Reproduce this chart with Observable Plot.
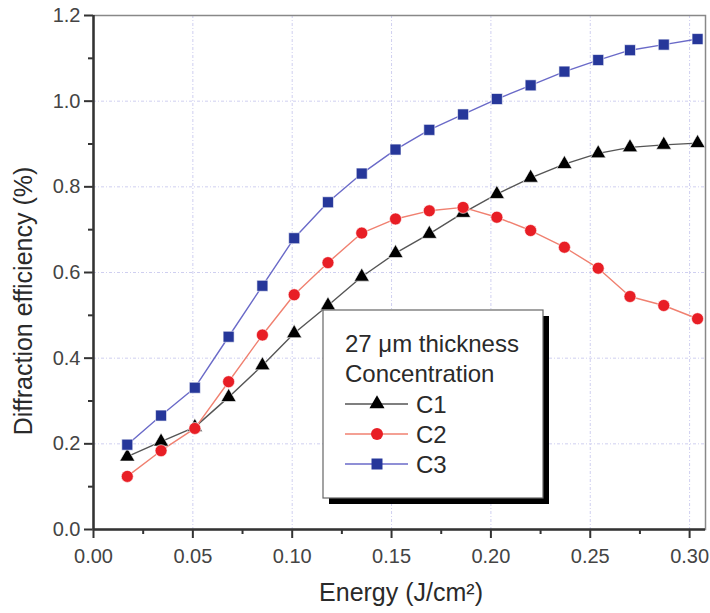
<!DOCTYPE html>
<html>
<head>
<meta charset="utf-8">
<script src="https://cdn.jsdelivr.net/npm/d3@7"></script>
<script src="https://cdn.jsdelivr.net/npm/@observablehq/plot@0.6"></script>
<style>
  html, body { margin: 0; padding: 0; background: #fff; }
  svg { font-family: "Liberation Sans", Arial, sans-serif; }
</style>
</head>
<body>
<div id="chart"></div>
<script>
const energy = [0.017, 0.034, 0.051, 0.068, 0.085, 0.101, 0.118, 0.135, 0.152, 0.169, 0.186, 0.203, 0.220, 0.237, 0.254, 0.270, 0.287, 0.304];
const c1 = [0.170, 0.205, 0.239, 0.309, 0.383, 0.458, 0.523, 0.590, 0.645, 0.690, 0.739, 0.783, 0.821, 0.853, 0.878, 0.892, 0.898, 0.902];
const c2 = [0.124, 0.184, 0.236, 0.345, 0.454, 0.548, 0.623, 0.692, 0.725, 0.744, 0.752, 0.729, 0.698, 0.659, 0.610, 0.544, 0.523, 0.492];
const c3 = [0.198, 0.266, 0.331, 0.450, 0.569, 0.680, 0.764, 0.831, 0.887, 0.933, 0.969, 1.005, 1.037, 1.069, 1.096, 1.119, 1.132, 1.145];
const seriesNames = ["C1", "C2", "C3"];
const legendTitle = ["27 \u03bcm thickness", "Concentration"];
const xLabel = "Energy (J/cm\u00b2)";
const yLabel = "Diffraction efficiency (%)";
const xTicks = [0.00, 0.05, 0.10, 0.15, 0.20, 0.25, 0.30];
const xMinorTicks = [0.025, 0.075, 0.125, 0.175, 0.225, 0.275];
const yTicks = [0.0, 0.2, 0.4, 0.6, 0.8, 1.0, 1.2];
const yMinorTicks = [0.1, 0.3, 0.5, 0.7, 0.9, 1.1];

const styles = {
  C1: {line: "#555555", fill: "#000000", symbol: "triangle", r: 5.6},
  C2: {line: "#f08070", fill: "#e81e25", symbol: "circle", r: 6},
  C3: {line: "#6a6ac8", fill: "#26379a", symbol: "square", r: 6.2}
};

const values = [c1, c2, c3];
const data = [];
seriesNames.forEach((s, k) => energy.forEach((e, i) => data.push({series: s, x: e, y: values[k][i]})));

const gridColor = "#cfcff0";
const marks = [
  Plot.gridX(xTicks.filter(d => d > 0), {stroke: gridColor, strokeOpacity: 1, strokeDasharray: "3,2,1,2"}),
  Plot.gridY(yTicks.filter(d => d > 0 && d < 1.2), {stroke: gridColor, strokeOpacity: 1, strokeDasharray: "3,2,1,2"}),
  Plot.axisX({ticks: xTicks, tickSize: 9, tickFormat: d3.format(".2f"), tickPadding: 10, label: null, stroke: "#333", strokeWidth: 2}),
  Plot.axisX({ticks: xMinorTicks, tickSize: 5, tickFormat: null, text: null, label: null, stroke: "#333", strokeWidth: 2}),
  Plot.axisY({ticks: yTicks, tickSize: 9, tickFormat: d3.format(".1f"), tickPadding: 4, label: null, stroke: "#333", strokeWidth: 2}),
  Plot.axisY({ticks: yMinorTicks, tickSize: 5, tickFormat: null, text: null, label: null, stroke: "#333", strokeWidth: 2})
];
seriesNames.forEach(s => {
  const d = data.filter(p => p.series === s);
  marks.push(Plot.line(d, {x: "x", y: "y", stroke: styles[s].line, strokeWidth: 1.4}));
});
seriesNames.forEach(s => {
  const d = data.filter(p => p.series === s);
  marks.push(Plot.dot(d, {x: "x", y: "y", symbol: () => styles[s].symbol, r: styles[s].r, fill: styles[s].fill, stroke: "white", strokeWidth: 0.6}));
});
marks.push(Plot.frame({stroke: "#888", strokeWidth: 1.5}));
marks.push(Plot.ruleX([0], {stroke: "#333", strokeWidth: 2.5}));
marks.push(Plot.ruleY([0], {stroke: "#333", strokeWidth: 2.5}));

const plot = Plot.plot({
  width: 710,
  height: 613,
  marginLeft: 93,
  marginRight: 5,
  marginTop: 15,
  marginBottom: 84,
  x: {domain: [0, 0.308]},
  y: {domain: [0, 1.2]},
  style: {fontFamily: "'Liberation Sans', Arial, sans-serif", color: "#333"},
  marks
});

const svg = d3.select(plot);
svg.selectAll("g[aria-label$='tick label']").attr("font-size", 20).attr("fill", "#444");
svg.selectAll("g[aria-label$='tick label'] text").style("font-size", "20px");

// axis titles
svg.append("text").attr("x", 401).attr("y", 601).attr("text-anchor", "middle")
  .attr("font-size", 25).attr("fill", "#2a2a2a").text(xLabel);
svg.append("text").attr("transform", "translate(32,301) rotate(-90)").attr("text-anchor", "middle")
  .attr("font-size", 25).attr("fill", "#2a2a2a").text(yLabel);

// legend box
const lg = svg.append("g").attr("font-family", "'Liberation Sans', Arial, sans-serif").attr("text-anchor", "start");
const bx = 323, by = 310, bw = 220, bh = 188;
lg.append("rect").attr("x", bx + 6).attr("y", by + 6).attr("width", bw).attr("height", bh).attr("fill", "#000");
lg.append("rect").attr("x", bx).attr("y", by).attr("width", bw).attr("height", bh).attr("fill", "#fff").attr("stroke", "#666").attr("stroke-width", 1.2);
legendTitle.forEach((t, i) => {
  lg.append("text").attr("x", bx + 22).attr("y", by + 42 + i * 30).attr("font-size", 24).attr("fill", "#2a2a2a").text(t);
});
seriesNames.forEach((s, i) => {
  const yy = by + 94 + i * 30;
  lg.append("line").attr("x1", bx + 22).attr("x2", bx + 85).attr("y1", yy).attr("y2", yy).attr("stroke", styles[s].line).attr("stroke-width", 1.6);
  const size = Math.PI * styles[s].r * styles[s].r;
  const sym = {triangle: d3.symbolTriangle, circle: d3.symbolCircle, square: d3.symbolSquare}[styles[s].symbol];
  lg.append("path").attr("d", d3.symbol(sym, size)()).attr("transform", `translate(${bx + 54},${yy})`).attr("fill", styles[s].fill);
  lg.append("text").attr("x", bx + 93).attr("y", yy + 9).attr("font-size", 24).attr("fill", "#2a2a2a").text(s);
});

document.getElementById("chart").appendChild(plot);
</script>
</body>
</html>
